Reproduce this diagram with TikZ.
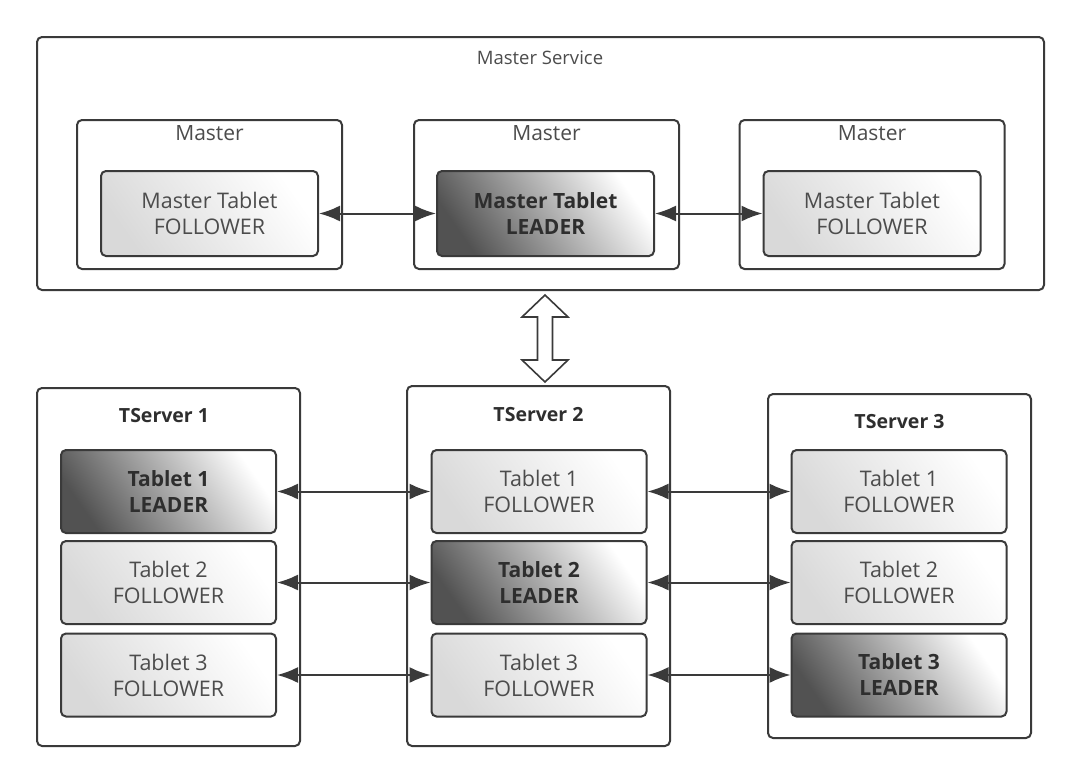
\documentclass[tikz,border=0pt]{standalone}
\usepackage{fontspec}
\setmainfont{Open Sans}
\usetikzlibrary{arrows.meta}
\definecolor{edgec}{HTML}{3A3A3A}
\definecolor{txtf}{HTML}{4C4C4C}
\definecolor{txtl}{HTML}{2E2E2E}
\begin{document}
\begin{tikzpicture}[x=1pt,y=-1pt,
  container/.style={draw=edgec, line width=2pt, rounded corners=5pt, fill=white},
  follower/.style={draw=edgec, line width=2pt, rounded corners=5pt,
    bottom color=black!15, top color=white, shading angle=-55,
    text=txtf, align=center, font=\fontsize{21.5}{26}\selectfont},
  leader/.style={draw=edgec, line width=2pt, rounded corners=5pt,
    bottom color=black!68, top color=white, shading angle=-55,
    text=txtl, align=center, font=\bfseries\fontsize{21}{26}\selectfont},
  mtitle/.style={text=txtf, font=\fontsize{21}{24}\selectfont},
  stitle/.style={text=txtf, font=\fontsize{18.5}{22}\selectfont},
  ttitle/.style={text=txtl, font=\bfseries\fontsize{19.5}{22}\selectfont},
  conn/.style={line width=2pt, draw=edgec,
    {Latex[length=21pt,width=16pt]}-{Latex[length=21pt,width=16pt]}},
  hollow/.style={draw=edgec, line width=1.6pt, fill=white, line join=miter}
]
\useasboundingbox (0,0) rectangle (1080,779);

% Master service
\node[container, minimum width=1007pt, minimum height=253pt] (ms) at (540.5,163.5) {};
\node[stitle] (mst) at (540,58) {Master Service};

\foreach \i/\x in {1/209.5,2/546.5,3/872}{
  \node[container, minimum width=265pt, minimum height=149pt] (m\i) at (\x,194.5) {};
  \node[mtitle] (m\i t) at (\x,133) {Master};
}
\node[follower, minimum width=217pt, minimum height=85pt] (mt1) at (209.5,213.5) {Master Tablet\\FOLLOWER};
\node[leader, minimum width=217pt, minimum height=85pt] (mt2) at (545.5,213.5) {Master Tablet\\LEADER};
\node[follower, minimum width=217pt, minimum height=85pt] (mt3) at (872,213.5) {Master Tablet\\FOLLOWER};
\draw[conn] (mt1) -- (mt2);
\draw[conn] (mt2) -- (mt3);

% hollow double arrow
\coordinate (ha) at (545,338.5);
\draw[hollow] ([shift={(0,-43.5)}]ha) -- ++(23,22) -- ++(-15.5,0) -- ++(0,43) -- ++(15.5,0)
  -- ++(-23,22) -- ++(-23,-22) -- ++(15.5,0) -- ++(0,-43) -- ++(-15.5,0) -- cycle;

% TServers
\node[container, minimum width=263pt, minimum height=358pt] (ts1) at (168.5,567) {};
\node[container, minimum width=263pt, minimum height=360pt] (ts2) at (538.5,566) {};
\node[container, minimum width=263pt, minimum height=344pt] (ts3) at (899.5,566) {};
\node[ttitle] (ts1t) at (164,416) {TServer 1};
\node[ttitle] (ts2t) at (538.5,415) {TServer 2};
\node[ttitle] (ts3t) at (899.5,422) {TServer 3};

\tikzset{tab/.style={minimum width=215pt, minimum height=83pt}}
% server 1
\node[leader, tab] (a1) at (168.5,491.5) {Tablet 1\\LEADER};
\node[follower, tab] (a2) at (168.5,582.5) {Tablet 2\\FOLLOWER};
\node[follower, tab] (a3) at (168.5,675) {Tablet 3\\FOLLOWER};
% server 2
\node[follower, tab] (b1) at (539,491.5) {Tablet 1\\FOLLOWER};
\node[leader, tab] (b2) at (539,582.5) {Tablet 2\\LEADER};
\node[follower, tab] (b3) at (539,675) {Tablet 3\\FOLLOWER};
% server 3
\node[follower, tab] (c1) at (899,491.5) {Tablet 1\\FOLLOWER};
\node[follower, tab] (c2) at (899,582.5) {Tablet 2\\FOLLOWER};
\node[leader, tab] (c3) at (899,675) {Tablet 3\\LEADER};

\foreach \i in {1,2,3}{
  \draw[conn] (a\i) -- (b\i);
  \draw[conn] (b\i) -- (c\i);
}
\end{tikzpicture}
\end{document}
